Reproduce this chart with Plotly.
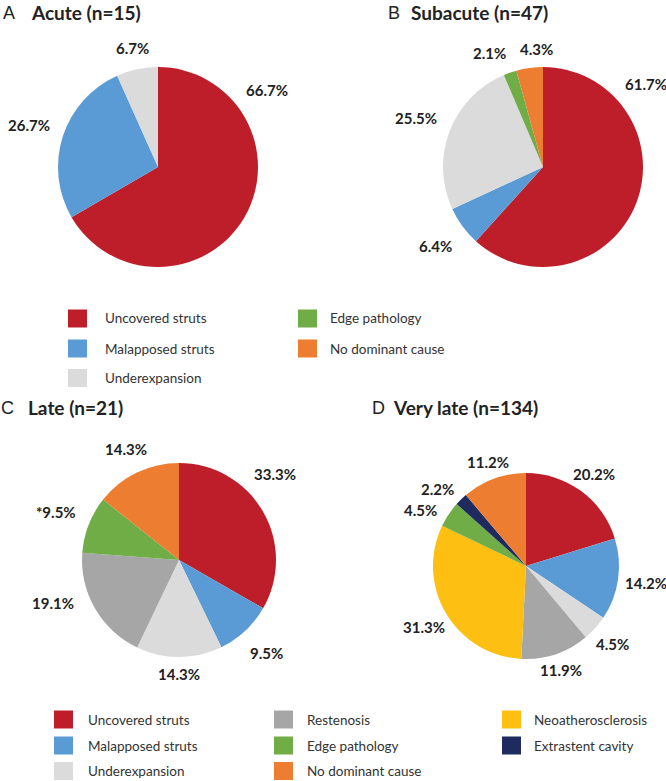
import math
import plotly.graph_objects as go

# ---------------- data ----------------
A_labels = ["Uncovered struts", "Malapposed struts", "Underexpansion"]
A_values = [66.7, 26.7, 6.7]
A_text = ["66.7%", "26.7%", "6.7%"]

B_labels = ["Uncovered struts", "Malapposed struts", "Underexpansion", "Edge pathology", "No dominant cause"]
B_values = [61.7, 6.4, 25.5, 2.1, 4.3]
B_text = ["61.7%", "6.4%", "25.5%", "2.1%", "4.3%"]

C_labels = ["Uncovered struts", "Malapposed struts", "Underexpansion", "Restenosis", "Edge pathology", "No dominant cause"]
C_values = [33.3, 9.5, 14.3, 19.1, 9.5, 14.3]
C_text = ["33.3%", "9.5%", "14.3%", "19.1%", "*9.5%", "14.3%"]

D_labels = ["Uncovered struts", "Malapposed struts", "Underexpansion", "Restenosis", "Neoatherosclerosis",
            "Edge pathology", "Extrastent cavity", "No dominant cause"]
D_values = [20.2, 14.2, 4.5, 11.9, 31.3, 4.5, 2.2, 11.2]
D_text = ["20.2%", "14.2%", "4.5%", "11.9%", "31.3%", "4.5%", "2.2%", "11.2%"]

panel_letters = ["A", "B", "C", "D"]
panel_titles = ["Acute (n=15)", "Subacute (n=47)", "Late (n=21)", "Very late (n=134)"]

legend1_cols = [["Uncovered struts", "Malapposed struts", "Underexpansion"],
                ["Edge pathology", "No dominant cause"]]
legend2_cols = [["Uncovered struts", "Malapposed struts", "Underexpansion"],
                ["Restenosis", "Edge pathology", "No dominant cause"],
                ["Neoatherosclerosis", "Extrastent cavity"]]

# ---------------- styles ----------------
COLORS = {
    "Uncovered struts": "#BE1E2A",
    "Malapposed struts": "#5B9BD5",
    "Underexpansion": "#DBDBDB",
    "Restenosis": "#A6A6A6",
    "Edge pathology": "#70AD47",
    "No dominant cause": "#ED7D31",
    "Neoatherosclerosis": "#FDBF12",
    "Extrastent cavity": "#1F2A5E",
}
W, H = 666, 781
FONT = "Lato"
TXT = "#222222"

# pie geometry (pixels): center x, center y, radius
PIES = [(158, 167, 100), (543, 167, 100), (179, 560, 97), (526, 566, 93)]
# label placement: (base pad, horizontal extra pad) per panel
LABEL_PAD = [(17, 20), (17, 20), (17, 20), (12, 16)]
# label angle overrides (degrees clockwise from 12 o'clock), style only
LABEL_ANGLE = {(0, 0): 55, (1, 0): 51, (1, 3): 335, (1, 4): 357, (2, 0): 48, (2, 3): 251,
               (3, 5): 298, (3, 6): 311}

def px(x):
    return x / W

def py(y):
    return 1 - y / H

fig = go.Figure()
annotations = []
shapes = []

datasets = [(A_labels, A_values, A_text), (B_labels, B_values, B_text),
            (C_labels, C_values, C_text), (D_labels, D_values, D_text)]

for i, ((labels, values, texts), (cx, cy, r)) in enumerate(zip(datasets, PIES)):
    fig.add_trace(go.Pie(
        labels=labels, values=values, sort=False, direction="clockwise", rotation=0,
        marker=dict(colors=[COLORS[l] for l in labels], line=dict(width=0)),
        textinfo="none", hoverinfo="label+percent", showlegend=False,
        domain=dict(x=[px(cx - r), px(cx + r)], y=[py(cy + r), py(cy - r)]),
    ))
    total = sum(values)
    cum = 0.0
    base, extra = LABEL_PAD[i]
    for j, (v, t) in enumerate(zip(values, texts)):
        mid = (cum + v / 2) / total * 360
        cum += v
        ang = LABEL_ANGLE.get((i, j), mid)
        th = math.radians(ang)
        d = r + base + extra * abs(math.sin(th))
        lx = cx + d * math.sin(th)
        ly = cy - d * math.cos(th)
        annotations.append(dict(
            x=px(lx), y=py(ly), xref="paper", yref="paper", text=t, showarrow=False,
            xanchor="center", yanchor="middle",
            font=dict(family=FONT, size=15, color=TXT, weight="bold")))

# panel titles: (letter x, title x, center y)
TITLE_POS = [(2, 30, 12), (387, 410, 12), (0, 27, 407), (371, 392, 407)]
for letter, title, (lx, tx, ty) in zip(panel_letters, panel_titles, TITLE_POS):
    annotations.append(dict(x=px(lx), y=py(ty + 1), xref="paper", yref="paper", text=letter,
                            showarrow=False, xanchor="left", yanchor="middle", borderpad=0,
                            font=dict(family="Liberation Sans", size=18, color=TXT)))
    annotations.append(dict(x=px(tx), y=py(ty), xref="paper", yref="paper", text=title,
                            showarrow=False, xanchor="left", yanchor="middle", borderpad=0,
                            font=dict(family=FONT, size=19, color=TXT, weight="bold")))

def add_legend(cols, col_x, text_x, row_y, sw=19, sh=18):
    for col, x0, tx in zip(cols, col_x, text_x):
        for name, yc in zip(col, row_y):
            shapes.append(dict(type="rect", xref="paper", yref="paper",
                               x0=px(x0), x1=px(x0 + sw), y0=py(yc + sh / 2), y1=py(yc - sh / 2),
                               fillcolor=COLORS[name], line=dict(width=0)))
            annotations.append(dict(x=px(tx), y=py(yc), xref="paper", yref="paper",
                                    text=name, showarrow=False, xanchor="left", yanchor="middle",
                                    font=dict(family=FONT, size=13.5, color="#333333")))

add_legend(legend1_cols, [68, 298], [103, 328], [318.5, 348.5, 378])
add_legend(legend2_cols, [54, 274, 502], [86, 305, 532], [719.5, 745.5, 771])

fig.update_layout(
    width=W, height=H, margin=dict(l=0, r=0, t=0, b=0),
    paper_bgcolor="white", plot_bgcolor="white",
    annotations=annotations, shapes=shapes, showlegend=False,
)
fig.write_html("out.html", config={"displayModeBar": False},
               post_script="document.body.style.margin='0';document.body.style.overflow='hidden';")
